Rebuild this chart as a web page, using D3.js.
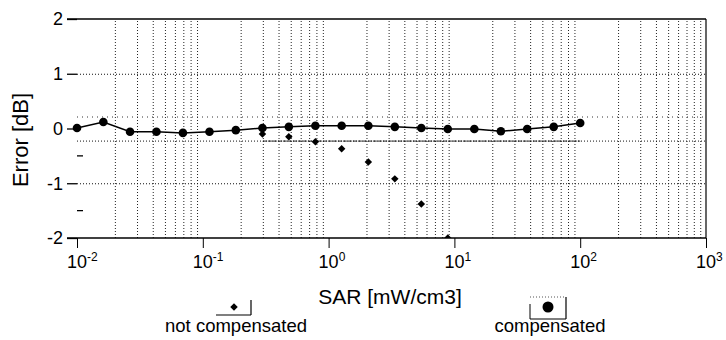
<!DOCTYPE html>
<html>
<head>
<meta charset="utf-8">
<style>
  html, body { margin: 0; padding: 0; background: #ffffff; }
  svg { display: block; font-family: "Liberation Sans", Arial, sans-serif; }
  text { fill: #000000; }
</style>
<script src="https://d3js.org/d3.v7.min.js"></script>
</head>
<body>
<div id="chart"></div>
<script>
// SAR values shared by both series (mW/cm3)
var sar = [0.01, 0.0162, 0.0264, 0.0428, 0.0695, 0.113, 0.183, 0.298, 0.483, 0.785,
           1.27, 2.07, 3.36, 5.46, 8.86, 14.4, 23.4, 37.9, 61.6, 100];
var compensated = [0.01, 0.12, -0.06, -0.06, -0.08, -0.06, -0.03, 0.01, 0.03, 0.05,
                   0.05, 0.05, 0.03, 0.01, -0.01, -0.01, -0.05, -0.01, 0.03, 0.10];
// not compensated, only where it leaves the compensated curve
var notCompSar = [0.298, 0.483, 0.785, 1.27, 2.07, 3.36, 5.46, 8.86];
var notCompensated = [-0.10, -0.15, -0.24, -0.37, -0.61, -0.92, -1.38, -2.0];

var decades = [0.01, 0.1, 1, 10, 100, 1000];
var decadeExp = ["-2", "-1", "0", "1", "2", "3"];
var yTicks = [-2, -1, 0, 1, 2];
var yMinor = [-0.5, -1.5];
var tolerance = [0.21, -0.23];

(function () {
    var W = 726, H = 340;
    var pLeft = 77, pRight = 706, pTop = 19, pBottom = 238;

    var svg = d3.select("#chart").append("svg")
        .attr("width", W).attr("height", H);

    var x = d3.scaleLog().domain([0.01, 1000]).range([pLeft, pRight]);
    var y = d3.scaleLinear().domain([-2, 2]).range([pBottom, pTop]);

    // minor vertical grid (2..9 in every decade)
    var minor = [];
    decades.slice(0, 5).forEach(function (d) {
        for (var k = 2; k <= 9; k++) minor.push(d * k);
    });

    svg.append("g")
        .attr("transform", "translate(0," + pBottom + ")")
        .call(d3.axisBottom(x).tickValues(minor).tickSize(-(pBottom - pTop)).tickFormat(""))
        .call(function (g) { g.select(".domain").remove(); })
        .selectAll("line")
        .attr("stroke", "#222")
        .attr("stroke-width", 1)
        .attr("stroke-dasharray", "1,2");

    // horizontal dotted grid at +-1
    svg.append("g")
        .attr("transform", "translate(" + pLeft + ",0)")
        .call(d3.axisLeft(y).tickValues([-1, 1]).tickSize(-(pRight - pLeft)).tickFormat(""))
        .call(function (g) { g.select(".domain").remove(); })
        .selectAll("line")
        .attr("stroke", "#111")
        .attr("stroke-dasharray", "1,2");

    // tolerance lines
    svg.selectAll(".tol")
        .data(tolerance)
        .enter().append("line")
        .attr("class", "tol")
        .attr("x1", pLeft).attr("x2", pRight)
        .attr("y1", function (d) { return y(d); })
        .attr("y2", function (d) { return y(d); })
        .attr("stroke", function (d, i) { return i == 0 ? "#333" : "#111"; })
        .attr("stroke-dasharray", function (d, i) { return i == 0 ? "1,4" : "1,2"; });

    // denser part of lower tolerance line
    svg.append("line")
        .attr("x1", x(0.3)).attr("x2", x(100))
        .attr("y1", y(tolerance[1])).attr("y2", y(tolerance[1]))
        .attr("stroke", "#222")
        .attr("stroke-width", 1)
        .attr("stroke-dasharray", "4,1");

    // frame: top, bottom, right
    svg.append("line").attr("x1", 67).attr("x2", pRight).attr("y1", pTop).attr("y2", pTop)
        .attr("stroke", "#000").attr("stroke-width", 1.5);
    svg.append("line").attr("x1", 67).attr("x2", pRight).attr("y1", pBottom).attr("y2", pBottom)
        .attr("stroke", "#000").attr("stroke-width", 1.5);
    svg.append("line").attr("x1", pRight).attr("x2", pRight).attr("y1", pTop).attr("y2", pBottom)
        .attr("stroke", "#000").attr("stroke-width", 1.2);

    // y axis
    var yAxis = svg.append("g")
        .attr("transform", "translate(" + pLeft + ",0)")
        .call(d3.axisLeft(y).tickValues(yTicks).tickSize(10).tickPadding(4)
            .tickFormat(function (d) { return d; }));
    yAxis.select(".domain").remove();
    yAxis.selectAll("line").attr("stroke", "#000").attr("stroke-width", 1.3);
    yAxis.selectAll("text")
        .attr("fill", "#000")
        .style("font-size", "18px")
        .style("font-family", "'Liberation Sans', Arial, sans-serif");

    // small inner marks
    svg.selectAll(".ymin")
        .data(yMinor)
        .enter().append("line")
        .attr("x1", pLeft).attr("x2", pLeft + 6)
        .attr("y1", function (d) { return y(d); })
        .attr("y2", function (d) { return y(d); })
        .attr("stroke", "#000").attr("stroke-width", 1.3);

    // x axis with superscript labels
    var xAxis = svg.append("g")
        .attr("transform", "translate(0," + pBottom + ")")
        .call(d3.axisBottom(x).tickValues(decades).tickSize(10).tickFormat(""));
    xAxis.select(".domain").remove();
    xAxis.selectAll("line").attr("stroke", "#000").attr("stroke-width", 1);

    var lab = svg.selectAll(".xlab")
        .data(decades)
        .enter().append("text")
        .attr("class", "xlab")
        .attr("x", function (d) { return x(d) - 10; })
        .attr("y", 268)
        .style("font-size", "18px");
    lab.append("tspan").text("10");
    lab.append("tspan")
        .attr("dy", -7)
        .style("font-size", "12px")
        .text(function (d, i) { return decadeExp[i]; });

    // axis titles
    svg.append("text")
        .attr("x", 390).attr("y", 304)
        .attr("text-anchor", "middle")
        .style("font-size", "21px")
        .text("SAR [mW/cm3]");

    svg.append("text")
        .attr("transform", "translate(28,140) rotate(-90)")
        .attr("text-anchor", "middle")
        .style("font-size", "22px")
        .text("Error [dB]");

    // clip for the data
    svg.append("clipPath").attr("id", "plot")
        .append("rect").attr("x", pLeft - 6).attr("y", pTop)
        .attr("width", pRight - pLeft + 6).attr("height", pBottom - pTop);

    var plot = svg.append("g").attr("clip-path", "url(#plot)");

    // compensated line + dots
    var comp = sar.map(function (d, i) { return { x: d, y: compensated[i] }; });
    plot.append("path")
        .datum(comp)
        .attr("fill", "none")
        .attr("stroke", "#000")
        .attr("stroke-width", 1.5)
        .attr("d", d3.line().x(function (d) { return x(d.x); }).y(function (d) { return y(d.y); }));

    plot.selectAll(".dot")
        .data(comp)
        .enter().append("circle")
        .attr("class", "dot")
        .attr("cx", function (d) { return x(d.x); })
        .attr("cy", function (d) { return y(d.y); })
        .attr("r", 4.3)
        .attr("fill", "#000");

    // not compensated diamonds (square turned 45 degrees)
    var diamond = d3.symbol().type(d3.symbolSquare).size(28);
    plot.selectAll(".nc")
        .data(notCompSar.map(function (d, i) { return { x: d, y: notCompensated[i] }; }))
        .enter().append("path")
        .attr("class", "nc")
        .attr("transform", function (d) { return "translate(" + x(d.x) + "," + y(d.y) + ") rotate(45)"; })
        .attr("d", diamond)
        .attr("fill", "#000");

    // legend
    var leg1 = svg.append("g");
    leg1.append("line").attr("x1", 216).attr("x2", 251).attr("y1", 315).attr("y2", 315)
        .attr("stroke", "#000").attr("stroke-width", 1.2);
    leg1.append("line").attr("x1", 251).attr("x2", 251).attr("y1", 300).attr("y2", 315)
        .attr("stroke", "#000").attr("stroke-width", 1.2);
    leg1.append("path").attr("transform", "translate(234,307) rotate(45)").attr("d", diamond).attr("fill", "#000");
    leg1.append("text").attr("x", 236).attr("y", 332).attr("text-anchor", "middle")
        .style("font-size", "18.5px").text("not compensated");

    var leg2 = svg.append("g");
    leg2.append("line").attr("x1", 530).attr("x2", 566).attr("y1", 297).attr("y2", 297)
        .attr("stroke", "#555").attr("stroke-dasharray", "1,2");
    leg2.append("line").attr("x1", 530).attr("x2", 566).attr("y1", 319).attr("y2", 319)
        .attr("stroke", "#000").attr("stroke-width", 1.2);
    leg2.append("line").attr("x1", 566).attr("x2", 566).attr("y1", 297).attr("y2", 319)
        .attr("stroke", "#000").attr("stroke-width", 1.2);
    leg2.append("line").attr("x1", 530).attr("x2", 530).attr("y1", 304).attr("y2", 319)
        .attr("stroke", "#000").attr("stroke-width", 1);
    leg2.append("circle").attr("cx", 548).attr("cy", 307).attr("r", 5.5).attr("fill", "#000");
    leg2.append("text").attr("x", 550).attr("y", 332).attr("text-anchor", "middle")
        .style("font-size", "18.5px").text("compensated");
})();
</script>
</body>
</html>
